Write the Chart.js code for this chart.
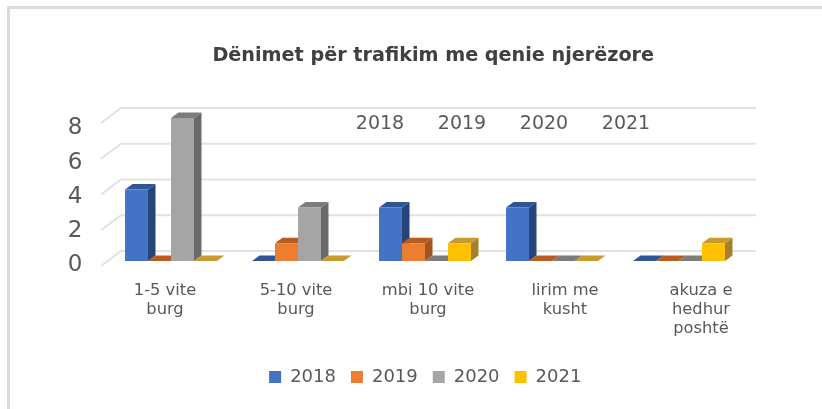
<!DOCTYPE html>
<html>
<head>
<meta charset="utf-8">
<title>Dënimet për trafikim me qenie njerëzore</title>
<script src="https://cdn.jsdelivr.net/npm/chart.js@4"></script>
<style>
    body { margin: 0; background: #fff; }
    #frame { position: absolute; left: 7px; top: 6px; width: 815px; height: 403px; box-sizing: border-box;
        border-top: 3px solid #dcdcdc; border-left: 3px solid #dcdcdc; }
    #chart { position: absolute; left: 0; top: 0; }
</style>
</head>
<body>
<div id="frame"></div>
<canvas id="chart" width="822" height="409"></canvas>
<script>
const categories = [
    ["1-5 vite", "burg"],
    ["5-10 vite", "burg"],
    ["mbi 10 vite", "burg"],
    ["lirim me", "kusht"],
    ["akuza e", "hedhur", "poshtë"],
];
const series = ["2018", "2019", "2020", "2021"];
const values2018 = [4, 0, 3, 3, 0];
const values2019 = [0, 1, 1, 0, 0];
const values2020 = [8, 3, 0, 0, 0];
const values2021 = [0, 0, 1, 0, 1];
const yTicks = [0, 2, 4, 6, 8];

const frontColors = ['#4472C4', '#ED7D31', '#A5A5A5', '#FFC000'];
const topColors = ['#2F5597', '#B85C22', '#7C7C7C', '#C99A2E'];
const sideColors = ['#264478', '#A0551F', '#6A6A6A', '#A5802B'];

const FONT = 'Tahoma, "DejaVu Sans", sans-serif';
const textColor = '#595959';

// x axis text does not sit under the bars in the original, so it gets its own axis in pixels
const plotLeft = 107.5, plotRight = 742.5;
const labelCenters = [165, 296, 428, 565, 701];
const floatingLabelX = [380, 462, 544, 626];

const depthX = 7.5, depthY = 5.5;

// 3d look: back wall grid, then side and top faces behind the flat bars
const fake3d = {
    id: 'fake3d',
    afterLayout(chart) {
        chart.legend.left += 54;
        chart.legend.right += 54;
        chart.titleBlock.left += 62;
        chart.titleBlock.right += 62;
    },
    beforeDatasetsDraw(chart) {
        const ctx = chart.ctx;
        const y = chart.scales.y;
        ctx.save();
        ctx.strokeStyle = '#e2e2e2';
        ctx.lineWidth = 2;
        yTicks.forEach((tick) => {
            const py = y.getPixelForValue(tick);
            ctx.beginPath();
            ctx.moveTo(101, py + 5);
            ctx.lineTo(121, py - 10);
            ctx.lineTo(756, py - 10);
            ctx.stroke();
        });
        for (let c = 0; c < categories.length; c++) {
            series.forEach((name, s) => {
                const bar = chart.getDatasetMeta(s).data[c];
                const left = bar.x - bar.width / 2;
                const right = bar.x + bar.width / 2;
                if (bar.base - bar.y > 0) {
                    ctx.fillStyle = sideColors[s];
                    ctx.beginPath();
                    ctx.moveTo(right, bar.y);
                    ctx.lineTo(right + depthX, bar.y - depthY);
                    ctx.lineTo(right + depthX, bar.base - depthY);
                    ctx.lineTo(right, bar.base);
                    ctx.closePath();
                    ctx.fill();
                }
                ctx.fillStyle = topColors[s];
                ctx.beginPath();
                ctx.moveTo(left, bar.y);
                ctx.lineTo(left + depthX, bar.y - depthY);
                ctx.lineTo(right + depthX, bar.y - depthY);
                ctx.lineTo(right, bar.y);
                ctx.closePath();
                ctx.fill();
            });
        }
        ctx.restore();
    },
    afterDraw(chart) {
        const ctx = chart.ctx;
        ctx.save();
        ctx.fillStyle = textColor;
        ctx.font = '19px ' + FONT;
        ctx.textAlign = 'center';
        ctx.textBaseline = 'middle';
        series.forEach((name, s) => ctx.fillText(name, floatingLabelX[s], 124));
        ctx.restore();
    },
};

new Chart(document.getElementById('chart'), {
    type: 'bar',
    data: {
        labels: categories,
        datasets: [
            { label: series[0], data: values2018, backgroundColor: frontColors[0] },
            { label: series[1], data: values2019, backgroundColor: frontColors[1] },
            { label: series[2], data: values2020, backgroundColor: frontColors[2] },
            { label: series[3], data: values2021, backgroundColor: frontColors[3] },
        ],
    },
    plugins: [fake3d],
    options: {
        responsive: false,
        animation: false,
        barPercentage: 1,
        categoryPercentage: 0.724,
        layout: { padding: { left: 0, right: 822 - plotRight, top: 0, bottom: 13 } },
        scales: {
            x: { display: false },
            y: { display: false, min: 0, max: 8 },
            // tick text runs a little tighter than the grid, same as the picture
            yText: {
                type: 'linear',
                position: 'left',
                min: 0.26,
                max: 8.606,
                grid: { display: false },
                border: { display: false },
                afterBuildTicks(axis) { axis.ticks = yTicks.map((value) => ({ value: value })); },
                afterFit(axis) { axis.width = plotLeft; },
                ticks: {
                    color: textColor,
                    font: { family: FONT, size: 23 },
                    padding: 17,
                    maxRotation: 0,
                    autoSkip: false,
                },
            },
            xText: {
                type: 'linear',
                position: 'bottom',
                offset: false,
                min: plotLeft,
                max: plotRight,
                grid: { display: false },
                border: { display: false },
                afterBuildTicks(axis) { axis.ticks = labelCenters.map((value) => ({ value: value })); },
                afterFit(axis) { axis.height = 92; },
                ticks: {
                    color: textColor,
                    font: { family: FONT, size: 16.3, lineHeight: 1.17 },
                    padding: 12,
                    maxRotation: 0,
                    autoSkip: false,
                    callback(value) { return categories[labelCenters.indexOf(value)]; },
                },
            },
        },
        plugins: {
            title: {
                display: true,
                text: 'Dënimet për trafikim me qenie njerëzore',
                color: '#404040',
                font: { family: FONT, size: 19.2, weight: 'bold' },
                padding: { top: 44, bottom: 51 },
            },
            legend: {
                position: 'bottom',
                labels: {
                    color: textColor,
                    font: { family: FONT, size: 18 },
                    boxWidth: 12,
                    boxHeight: 12,
                    padding: 15,
                },
            },
            tooltip: { enabled: false },
        },
    },
});
</script>
</body>
</html>
